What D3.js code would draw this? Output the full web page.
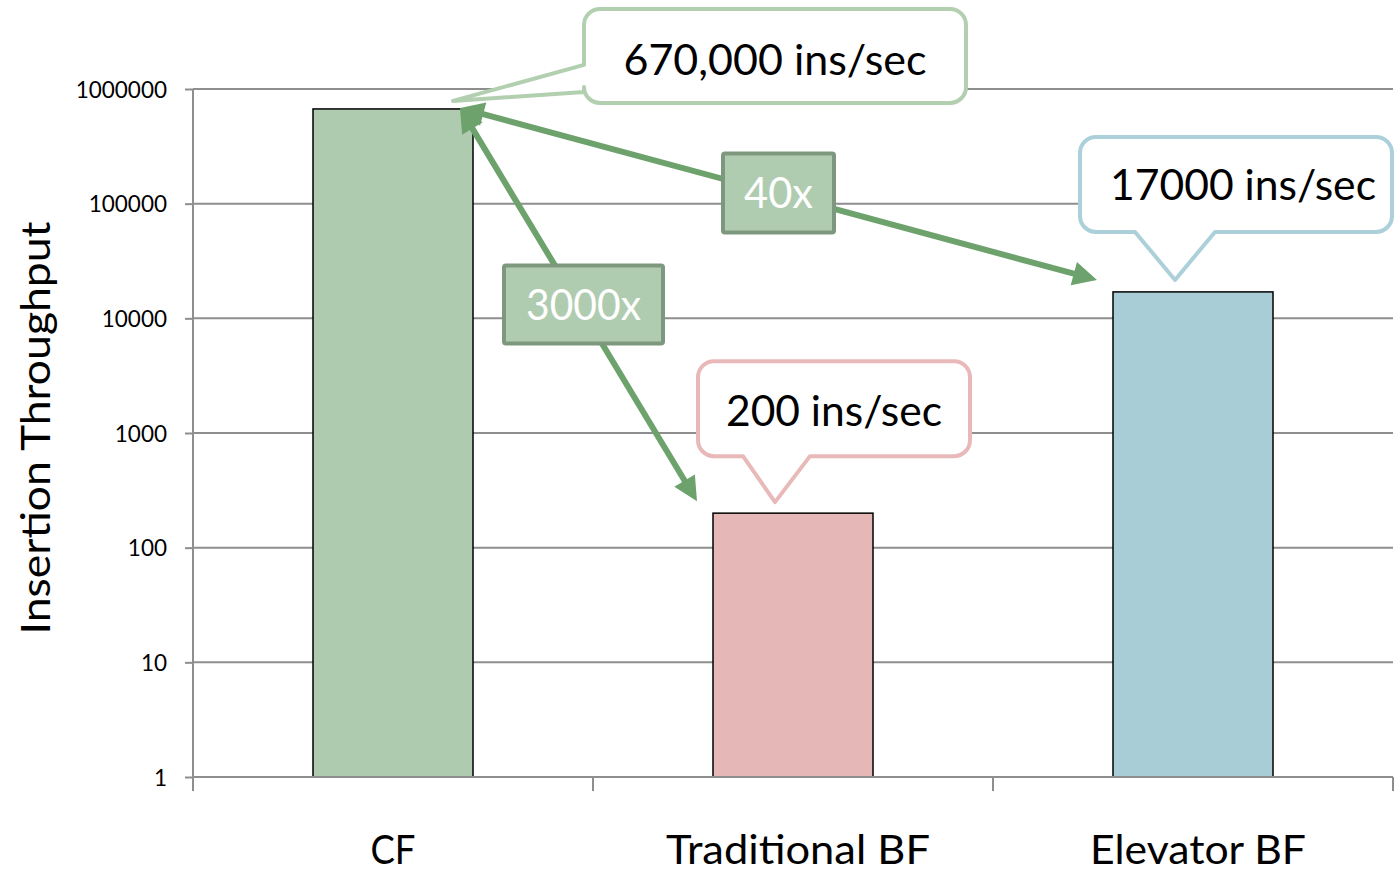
<!DOCTYPE html>
<html>
<head>
<meta charset="utf-8">
<script src="https://cdn.jsdelivr.net/npm/d3@7"></script>
<style>
  html, body { margin: 0; padding: 0; background: #fff; }
  svg { display: block; }
  text { font-family: Lato, "Open Sans", "Noto Sans", sans-serif; }
</style>
</head>
<body>
<svg id="chart" width="1394" height="873"></svg>
<script>
// Insertion throughput per filter type (insertions per second)
const categories = ["CF", "Traditional BF", "Elevator BF"];
const throughput = [670000, 200, 17000];
const valueLabels = ["670,000 ins/sec", "200 ins/sec", "17000 ins/sec"];
const barColors = ["#afcbaf", "#e6b7b7", "#a8cdd6"];
const calloutColors = ["#b2cfb0", "#e9b9b9", "#acd0da"];
const yTicks = [1, 10, 100, 1000, 10000, 100000, 1000000];
const speedupLabels = ["3000x", "40x"];   // CF vs Traditional BF, CF vs Elevator BF
const speedupTargets = [1, 2];

const svg = d3.select("#chart");
const margin = { left: 193, right: 1393, top: 89, bottom: 777 };

const x = d3.scaleBand()
  .domain(categories)
  .range([margin.left, margin.right])
  .paddingInner(0.6)
  .paddingOuter(0.3);

const y = d3.scaleLog()
  .domain([1, 1e6])
  .range([margin.bottom, margin.top]);

const gridColor = "#8e8e8e";

// horizontal gridlines
svg.append("g")
  .selectAll("line")
  .data(yTicks)
  .join("line")
  .attr("x1", margin.left)
  .attr("x2", margin.right)
  .attr("y1", d => y(d))
  .attr("y2", d => y(d))
  .attr("stroke", gridColor)
  .attr("stroke-width", 2);

// y axis
const yAxis = d3.axisLeft(y)
  .tickValues(yTicks)
  .tickFormat(d3.format("d"))
  .tickSize(8)
  .tickPadding(18);
const yg = svg.append("g")
  .attr("transform", `translate(${margin.left},0)`)
  .call(yAxis);
yg.select(".domain").attr("stroke", gridColor).attr("stroke-width", 2)
  .attr("d", `M0,${margin.top}V${margin.bottom + 13}`);
yg.selectAll(".tick line").attr("stroke", gridColor).attr("stroke-width", 2);
yg.selectAll(".tick text")
  .attr("fill", "#000")
  .style("font-size", "22.5px")
  .style("font-family", "Lato, sans-serif")
  .attr("dy", "0.36em");

// category boundary ticks along the base
const boundaries = d3.range(categories.length + 1).map(i => margin.left + i * x.step());
svg.append("g")
  .selectAll("line")
  .data(boundaries)
  .join("line")
  .attr("x1", d => d).attr("x2", d => d)
  .attr("y1", margin.bottom).attr("y2", margin.bottom + 14)
  .attr("stroke", gridColor).attr("stroke-width", 2);

// bars
svg.append("g")
  .selectAll("rect")
  .data(categories)
  .join("rect")
  .attr("x", d => x(d))
  .attr("y", (d, i) => y(throughput[i]))
  .attr("width", x.bandwidth())
  .attr("height", (d, i) => y(1) - y(throughput[i]))
  .attr("fill", (d, i) => barColors[i])
  .attr("stroke", "#000")
  .attr("stroke-width", 1.5);

// base line over the bars
svg.append("line")
  .attr("x1", margin.left).attr("x2", margin.right)
  .attr("y1", margin.bottom).attr("y2", margin.bottom)
  .attr("stroke", gridColor).attr("stroke-width", 2);

// category labels
const catWidths = [45, 264, 216];
svg.append("g")
  .selectAll("text")
  .data(categories)
  .join("text")
  .attr("x", d => x(d) + x.bandwidth() / 2 + (d === "CF" ? 0 : 5))
  .attr("y", 864)
  .attr("text-anchor", "middle")
  .attr("textLength", (d, i) => catWidths[i])
  .attr("lengthAdjust", "spacingAndGlyphs")
  .style("font-size", "40px")
  .attr("fill", "#000")
  .text(d => d);

// y axis title
svg.append("text")
  .attr("transform", "translate(50,428) rotate(-90)")
  .attr("text-anchor", "middle")
  .attr("textLength", 413)
  .attr("lengthAdjust", "spacingAndGlyphs")
  .style("font-size", "41px")
  .attr("fill", "#000")
  .text("Insertion Throughput");

// value callouts (rounded box with a pointer to the bar top)
function roundedCallout(b, r, ptr) {
  const p = d3.path();
  const { x0, y0, x1, y1 } = b;
  p.moveTo(x0 + r, y0);
  p.lineTo(x1 - r, y0);
  p.arcTo(x1, y0, x1, y0 + r, r);
  p.lineTo(x1, y1 - r);
  p.arcTo(x1, y1, x1 - r, y1, r);
  if (ptr.side === "bottom") {
    p.lineTo(ptr.b2, y1);
    p.lineTo(ptr.tx, ptr.ty);
    p.lineTo(ptr.b1, y1);
  }
  p.lineTo(x0 + r, y1);
  p.arcTo(x0, y1, x0, y1 - r, r);
  if (ptr.side === "left") {
    p.lineTo(x0, ptr.b2);
    p.lineTo(ptr.tx, ptr.ty);
    p.lineTo(x0, ptr.b1);
  }
  p.lineTo(x0, y0 + r);
  p.arcTo(x0, y0, x0 + r, y0, r);
  p.closePath();
  return p.toString();
}

// box geometry relative to each pointer tip
const calloutLayout = [
  { side: "left",   dx0: 131, dx1: 513, dy0: -92,  dy1: 2,   b1: -36, b2: -9, tdx: 140, tdy: -8,  textW: 303, tdxText: 322, tyText: -26 },
  { side: "bottom", dx0: -77, dx1: 195, dy0: -141, dy1: -46, b1: -32, b2: 35, tdx: 62,  tdy: -11, textW: 216, tdxText: 59,  tyText: -76 },
  { side: "bottom", dx0: -95, dx1: 217, dy0: -143, dy1: -48, b1: -40, b2: 40, tdx: 62,  tdy: -12, textW: 266, tdxText: 68,  tyText: -80 }
];

const callouts = svg.append("g");
categories.forEach((c, i) => {
  const L = calloutLayout[i];
  const tx = x(c) + L.tdx;
  const ty = y(throughput[i]) + L.tdy;
  const box = { x0: tx + L.dx0, x1: tx + L.dx1, y0: ty + L.dy0, y1: ty + L.dy1 };
  const ptr = L.side === "left"
    ? { side: "left", tx, ty, b1: ty + L.b1, b2: ty + L.b2 }
    : { side: "bottom", tx, ty, b1: tx + L.b1, b2: tx + L.b2 };
  callouts.append("path")
    .attr("d", roundedCallout(box, 16, ptr))
    .attr("fill", "#fff")
    .attr("stroke", calloutColors[i])
    .attr("stroke-width", 4)
    .attr("stroke-linejoin", "round");
  callouts.append("text")
    .attr("x", tx + L.tdxText)
    .attr("y", ty + L.tyText)
    .attr("text-anchor", "middle")
    .attr("textLength", L.textW)
    .attr("lengthAdjust", "spacingAndGlyphs")
    .style("font-size", "42px")
    .attr("fill", "#000")
    .text(valueLabels[i]);
});

// CF-vs-others speedup arrows
const arrowColor = "#6da26d";
const src = { x: x(categories[0]) + x.bandwidth() - 13, y: y(throughput[0]) - 1 };
const arrows = svg.append("g");

function arrowHead(from, to, len, half) {
  const dx = to.x - from.x, dy = to.y - from.y;
  const d = Math.hypot(dx, dy), ux = dx / d, uy = dy / d;
  const bx = to.x - ux * len, by = to.y - uy * len;
  return [[to.x, to.y], [bx - uy * half, by + ux * half], [bx + uy * half, by - ux * half]];
}

const boxSizes = [[159, 78], [111, 79]];
const labelWidths = [115, 69];
speedupTargets.forEach((ti, k) => {
  const c = categories[ti];
  const dst = { x: x(c) - 16, y: y(throughput[ti]) - 12 };
  const dx = dst.x - src.x, dy = dst.y - src.y, d = Math.hypot(dx, dy);
  const ux = dx / d, uy = dy / d;
  const headLen = 24;
  arrows.append("line")
    .attr("x1", src.x + ux * headLen * 0.8).attr("y1", src.y + uy * headLen * 0.8)
    .attr("x2", dst.x - ux * headLen * 0.8).attr("y2", dst.y - uy * headLen * 0.8)
    .attr("stroke", arrowColor).attr("stroke-width", 6);
  [[dst, src], [src, dst]].forEach(([a, b]) => {
    arrows.append("polygon")
      .attr("points", arrowHead(a, b, headLen, 12).map(p => p.join(",")).join(" "))
      .attr("fill", arrowColor);
  });
  const mx = (src.x + dst.x) / 2 + (k === 0 ? 5 : 0);
  const my = (src.y + dst.y) / 2 + (k === 0 ? 0 : -1);
  const [bw, bh] = boxSizes[k];
  arrows.append("rect")
    .attr("x", mx - bw / 2).attr("y", my - bh / 2)
    .attr("width", bw).attr("height", bh)
    .attr("fill", "#b0ccb0")
    .attr("stroke", "#7e977f")
    .attr("stroke-width", 4)
    .attr("rx", 2);
  arrows.append("text")
    .attr("x", mx).attr("y", my + 15)
    .attr("text-anchor", "middle")
    .attr("textLength", labelWidths[k])
    .attr("lengthAdjust", "spacingAndGlyphs")
    .style("font-size", "42px")
    .attr("fill", "#fff")
    .text(speedupLabels[k]);
});
</script>
</body>
</html>
